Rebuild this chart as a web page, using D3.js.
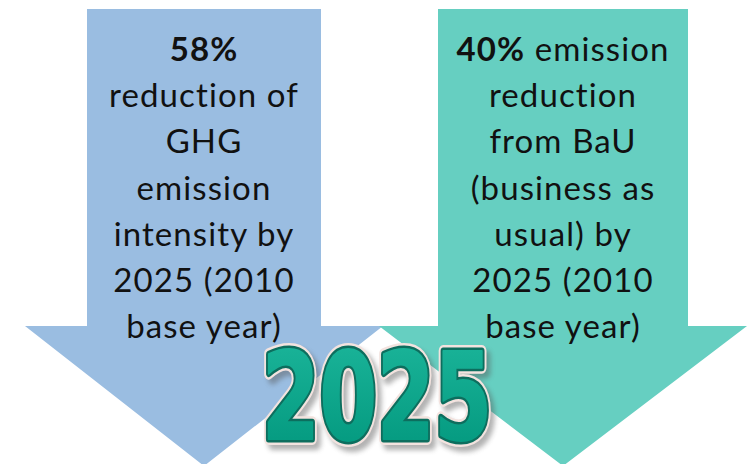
<!DOCTYPE html>
<html>
<head>
<meta charset="utf-8">
<script src="https://cdn.jsdelivr.net/npm/d3@7"></script>
<style>
  body { margin: 0; background: #fff; }
  svg { display: block; }
</style>
</head>
<body>
<svg width="752" height="464"></svg>
<script>
// targets shown on the two arrows
const percents = ["58%", "40%"];
const arrowLines = [
  ["58%", "reduction of", "GHG", "emission", "intensity by", "2025 (2010", "base year)"],
  ["40% emission", "reduction", "from BaU", "(business as", "usual) by", "2025 (2010", "base year)"]
];
const arrowColors = ["#9abde1", "#66cfc1"];
const targetYear = "2025";

const svg = d3.select("svg");

// arrow layout
const shaftHalf = [117, 125];
const headHalf = [179, 184];
const topY = 9, neckY = 326, tipY = 466;

const x = d3.scaleLinear().domain([0, 1]).range([204, 563]);
const lineY = d3.scaleLinear().domain([0, 6]).range([61, 338]);

const arrows = svg.selectAll("g.arrow")
  .data(arrowLines)
  .enter()
  .append("g")
  .attr("class", "arrow");

arrows.append("path")
  .attr("fill", (d, i) => arrowColors[i])
  .attr("d", (d, i) => {
    const cx = x(i), s = shaftHalf[i], h = headHalf[i];
    const p = d3.path();
    p.moveTo(cx - s, topY);
    p.lineTo(cx + s, topY);
    p.lineTo(cx + s, neckY);
    p.lineTo(cx + h, neckY);
    p.lineTo(cx, tipY);
    p.lineTo(cx - h, neckY);
    p.lineTo(cx - s, neckY);
    p.closePath();
    return p.toString();
  });

arrows.each(function (lines, i) {
  const g = d3.select(this);
  lines.forEach((line, j) => {
    const t = g.append("text")
      .attr("x", x(i))
      .attr("y", lineY(j))
      .attr("text-anchor", "middle")
      .style("font-family", "Lato, 'Open Sans', sans-serif")
      .style("font-size", "33px")
      .style("letter-spacing", "1.1px")
      .attr("fill", "#111");
    if (line.startsWith(percents[i])) {
      t.append("tspan").attr("font-weight", "bold").text(percents[i]);
      t.append("tspan").text(line.slice(percents[i].length));
    } else {
      t.text(line);
    }
  });
});

// big year label
const defs = svg.append("defs");
const grad = defs.append("linearGradient")
  .attr("id", "yearFill")
  .attr("x1", 0).attr("y1", 0).attr("x2", 0).attr("y2", 1);
grad.append("stop").attr("offset", "0%").attr("stop-color", "#1db79c");
grad.append("stop").attr("offset", "100%").attr("stop-color", "#00957b");

defs.append("filter").attr("id", "blur")
  .append("feGaussianBlur").attr("stdDeviation", 2.5);

const yearX = 377, yearY = 439;
const yearLayers = [
  { fill: "#555", stroke: "#555", w: 12, dx: 4, dy: 5, op: 0.45, filter: "url(#blur)" },
  { fill: "#f3e3df", stroke: "#f3e3df", w: 12, dx: 0, dy: 0, op: 1 },
  { fill: "#0d6e5e", stroke: "#0d6e5e", w: 7, dx: 0, dy: 0, op: 1 },
  { fill: "url(#yearFill)", stroke: "url(#yearFill)", w: 2, dx: 0, dy: 0, op: 1 }
];

svg.append("g").selectAll("text")
  .data(yearLayers)
  .enter()
  .append("text")
  .attr("x", d => yearX + d.dx)
  .attr("y", d => yearY + d.dy)
  .attr("text-anchor", "middle")
  .attr("textLength", 230)
  .attr("lengthAdjust", "spacingAndGlyphs")
  .style("font-family", "'Liberation Sans Narrow', 'DejaVu Sans Condensed', sans-serif")
  .style("font-weight", "bold")
  .style("font-size", "122px")
  .attr("fill", d => d.fill)
  .attr("stroke", d => d.stroke)
  .attr("stroke-width", d => d.w)
  .attr("stroke-linejoin", "round")
  .attr("opacity", d => d.op)
  .attr("filter", d => d.filter || null)
  .text(targetYear);
</script>
</body>
</html>
